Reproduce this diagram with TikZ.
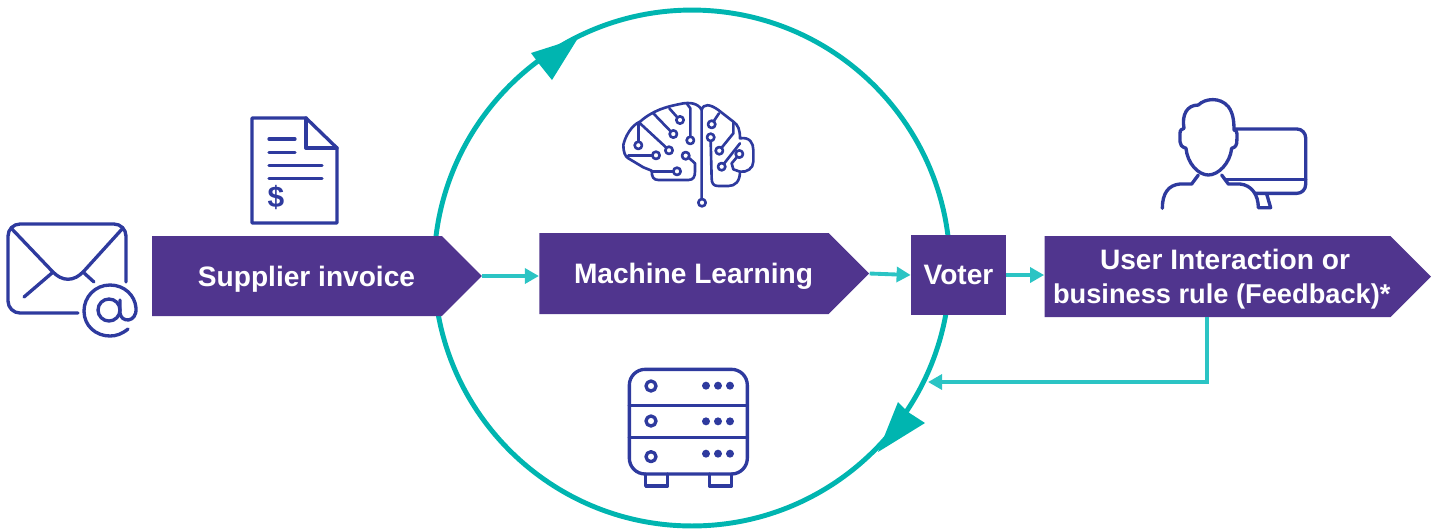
\documentclass[tikz,border=0pt]{standalone}
\usepackage{xcolor}
\usepackage{fontspec}
\setmainfont{Liberation Sans}
\usepackage{tikz}
\usetikzlibrary{shapes.symbols, positioning, calc, arrows.meta}

\definecolor{boxpurple}{HTML}{50358E}
\definecolor{loopteal}{HTML}{00B5B0}
\definecolor{linkteal}{HTML}{2BC4C4}
\definecolor{iconblue}{HTML}{2E3A9E}

\tikzset{
	labelbox/.style={fill=boxpurple, text=white, font=\fontsize{16}{19.3}\selectfont\bfseries, inner sep=0pt, align=center, text depth=0pt},
	arrowbox/.style={labelbox, signal, signal to=east, signal pointer angle=90},
	link/.style={draw=linkteal, line width=2.2pt, -{Triangle[length=8pt, width=8.5pt]}},
	bigtip/.style={fill=loopteal},
	icon/.style={draw=iconblue, line width=1.9pt, line cap=round, line join=round},
	thinicon/.style={icon, line width=1.5pt},
}
\begin{document}
\begin{tikzpicture}[x=0.02cm, y=-0.02cm]
	\useasboundingbox (0,0) rectangle (1437,529);

	\node (loop) [circle, draw=loopteal, line width=2.8pt, minimum size=10.32cm, inner sep=0pt] at (692,268) {};
	\path [bigtip] (578,38) -- (552,80) -- (540,65) -- (531,53) -- cycle;
	\path [bigtip] (878,452) -- (898,402) -- (908,412) -- (925,423) -- cycle;

	\node (supplier) [arrowbox, minimum width=6.6cm, minimum height=1.6cm] at (297,276) {\hspace*{0.38cm}Supplier invoice};
	\node (learning) [arrowbox, minimum width=6.6cm, minimum height=1.62cm] at (684,273.5) {\hspace*{0.38cm}Machine Learning};
	\node (voter) [labelbox, minimum width=1.9cm, minimum height=1.6cm] at (958.5,275) {Voter};
	\node (user) [arrowbox, minimum width=7.7cm, minimum height=1.62cm] at (1217.5,276.5) {\hspace*{0.3cm}User Interaction or\\\fontsize{15.5}{19.3}\selectfont\hspace*{0.17cm}business rule (Feedback)*};

	\coordinate (turn) at (1207,382);
	\coordinate (back) at (928,382);
	\draw [link] (supplier.east) -- (supplier.east -| learning.west);
	\draw [link] (learning.east) -- (voter.west);
	\draw [link] (voter.east) -- (voter.east -| user.west);
	\draw [link] (user.south -| turn) -- (turn) -- (back);

	% envelope
	\draw [icon] (78,313) -- (20,313) arc (90:180:12) -- (8,236) arc (180:270:12) -- (114,224) arc (270:360:12) -- (126,282);
	\draw [icon] (11,228) -- (52,271) .. controls (62,282) and (74,282) .. (84,271) -- (123,228);
	\draw [icon] (24,297) -- (52,273);
	\draw [icon] (83,272) -- (94,282);
	\draw [icon] (109,310) circle [radius=11];
	\draw [icon] (120,300) -- (120,313) .. controls (121,323) and (137,323) .. (136,308) .. controls (135,295) and (124,285) .. (110,285) .. controls (95,285) and (84,297) .. (84,311) .. controls (84,326) and (96,336) .. (110,336) .. controls (116,336) and (122,334) .. (128,329);

	% document
	\draw [icon] (252,118) -- (306,118) -- (337,148) -- (337,223) -- (252,223) -- cycle;
	\draw [icon] (306,118) -- (306,148) -- (337,148);
	\foreach \y in {139,152.7} \draw [icon] (269,\y) -- (295,\y);
	\foreach \y in {165.5,178.5} \draw [icon] (269,\y) -- (322,\y);
	\node (dollar) [text=iconblue, font=\fontsize{17}{17}\selectfont\bfseries, inner sep=0pt] at (276,198) {\$};

	% brain
	\begin{scope}[shift={(590,80)}, x=0.00667cm, y=-0.00667cm]
	\draw [thinicon] (335,355) -- (335,90) .. controls (325,70) and (300,65) .. (270,72) .. controls (230,80) and (190,90) .. (150,125) .. controls (125,135) and (105,170) .. (100,195) .. controls (100,215) and (105,230) .. (115,235) -- (160,262) -- (185,272) .. controls (185,290) and (190,300) .. (205,300) -- (295,300) .. controls (310,300) and (315,290) .. (315,275) -- (315,250) -- (295,232);
	\draw [thinicon] (335,90) .. controls (340,70) and (360,72) .. (385,90) -- (430,125) .. controls (445,135) and (450,150) .. (450,175) .. controls (480,170) and (490,190) .. (490,210) -- (490,245) .. controls (490,265) and (470,278) .. (450,275) .. controls (450,305) and (435,318) .. (415,318) -- (385,318) .. controls (370,318) and (365,310) .. (365,295) -- (362,184);
	\foreach \cx/\cy in {145/196, 198/226, 237/211, 250/162, 270/120, 301/181, 261/274, 287/227, 365/133, 362/172, 388/212, 395/260, 448/222, 336/368}
	\draw [thinicon] (\cx,\cy) circle [radius=11];
	\draw [thinicon] (145,185) -- (145,130);
	\draw [thinicon] (187,226) -- (115,226);
	\draw [thinicon] (229,203) -- (150,130);
	\draw [thinicon] (242,154) -- (190,100);
	\draw [thinicon] (262,112) -- (238,85);
	\draw [thinicon] (301,170) -- (301,85) -- (290,70);
	\draw [thinicon] (250,274) -- (185,274);
	\draw [thinicon] (371,124) -- (387,100);
	\draw [thinicon] (395,203) -- (430,160) -- (430,125);
	\draw [thinicon] (402,251) -- (450,190);
	\draw [thinicon] (441,231) -- (425,250) -- (430,268) -- (450,275);
	\end{scope}

	% user with monitor
	\begin{scope}[shift={(1130,80)}, x=0.00667cm, y=-0.00667cm]
	\draw [icon] (205,75) .. controls (225,55) and (270,50) .. (295,80) .. controls (310,100) and (312,125) .. (312,150) .. controls (322,150) and (322,160) .. (320,190) .. controls (318,200) and (310,205) .. (305,205) .. controls (300,250) and (265,285) .. (235,285) .. controls (205,285) and (172,250) .. (168,205) .. controls (155,200) and (150,195) .. (150,185) -- (150,160) .. controls (150,150) and (155,147) .. (162,145) .. controls (155,105) and (170,75) .. (205,75) -- cycle;
	\draw [icon] (205,285) -- (185,312) -- (150,312) .. controls (115,315) and (97,340) .. (97,385);
	\draw [icon] (275,285) -- (295,312) -- (330,312) .. controls (365,315) and (385,345) .. (385,383) -- (422,383) -- (410,342);
	\draw [icon, rounded corners=5pt] (315,147) -- (527,147) -- (527,340) -- (375,340);
	\draw [icon] (285,298) -- (527,298);
	\end{scope}

	% server
	\begin{scope}[shift={(600,350)}, x=0.00667cm, y=-0.00667cm]
	\draw [icon, rounded corners=9pt] (88,58) rectangle (442,372);
	\foreach \y in {167,263} \draw [icon] (88,\y) -- (442,\y);
	\foreach \y/\z in {108/107, 213/214, 320/311} {
		\draw [icon] (153,\y) circle [radius=15];
		\foreach \x in {318,354,390} \fill [iconblue] (\x,\z) circle [radius=12];
	}
	\draw [icon] (137,372) -- (137,408) -- (203,408) -- (203,372);
	\draw [icon] (328,372) -- (328,408) -- (395,408) -- (395,372);
	\end{scope}
\end{tikzpicture}
\end{document}
